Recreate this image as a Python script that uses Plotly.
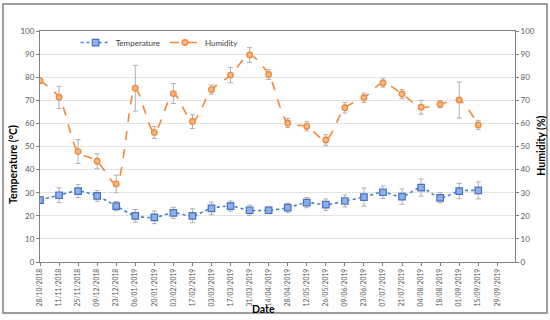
import plotly.graph_objects as go
from plotly.subplots import make_subplots

dates = ["2018-10-28", "2018-11-11", "2018-11-25", "2018-12-09", "2018-12-23",
         "2019-01-06", "2019-01-20", "2019-02-03", "2019-02-17", "2019-03-03",
         "2019-03-17", "2019-03-31", "2019-04-14", "2019-04-28", "2019-05-12",
         "2019-05-26", "2019-06-09", "2019-06-23", "2019-07-07", "2019-07-21",
         "2019-08-04", "2019-08-18", "2019-09-01", "2019-09-15"]
temperature = [26.8, 28.9, 30.7, 28.6, 24.2, 20.0, 19.3, 21.3, 20.0, 23.2,
               24.2, 22.4, 22.4, 23.5, 25.7, 24.8, 26.4, 28.1, 30.2, 28.3,
               32.2, 27.8, 30.7, 31.0]
temperature_err = [1.0, 3.2, 2.8, 2.3, 2.0, 2.7, 2.7, 2.4, 3.0, 2.7,
                   2.2, 2.2, 1.5, 2.0, 2.2, 2.5, 2.6, 3.9, 2.7, 3.3,
                   3.7, 2.2, 3.3, 3.7]
humidity = [78.5, 71.3, 47.8, 43.6, 33.8, 75.2, 56.1, 72.9, 60.8, 74.6,
            80.9, 89.6, 81.2, 60.2, 58.7, 52.8, 66.8, 71.1, 77.5, 72.7,
            67.0, 68.3, 70.1, 59.3]
humidity_err = [1.0, 4.8, 5.2, 3.2, 3.8, 9.9, 2.6, 4.3, 3.0, 2.0,
                3.3, 3.2, 2.2, 2.0, 2.0, 2.3, 2.3, 2.0, 1.8, 2.0,
                3.0, 1.5, 7.8, 2.0]
x_title = "Date"
y_title_left = "Temperature (°C)"
y_title_right = "Humidity (%)"

FONT = "Lato"
GRAY = "#595959"

fig = make_subplots(specs=[[{"secondary_y": True}]])

fig.add_trace(go.Scatter(
    x=dates, y=temperature, name="Temperature", mode="lines+markers",
    line=dict(color="#4A7FD0", width=1.6, dash="dot", shape="spline", smoothing=0.8),
    marker=dict(symbol="square", size=6.5, color="#8DB0E8", line=dict(color="#4472C4", width=1.2)),
    error_y=dict(type="data", array=temperature_err, visible=True, color="#B0B0B0", thickness=1, width=2.5),
), secondary_y=False)

fig.add_trace(go.Scatter(
    x=dates, y=humidity, name="Humidity", mode="lines+markers",
    line=dict(color="#F08A3C", width=1.6, dash="dash", shape="spline", smoothing=0.8),
    marker=dict(symbol="circle", size=5.5, color="#F8B98A", line=dict(color="#F08A3C", width=1.4)),
    error_y=dict(type="data", array=humidity_err, visible=True, color="#B0B0B0", thickness=1, width=2.5),
), secondary_y=True)

fig.update_xaxes(
    type="date", range=["2018-10-28", "2019-10-12"], automargin=False, domain=[0, 1],
    tick0="2018-10-28", dtick=14 * 86400000, tickformat="%d/%m/%Y",
    tickangle=-90, tickfont=dict(family=FONT, size=6.8, color=GRAY),
    ticks="outside", ticklen=3, tickcolor="#808080",
    showline=True, linecolor="#808080", linewidth=1, mirror=True,
    showgrid=False, zeroline=False,
)
fig.update_yaxes(
    range=[0, 100], dtick=10, tickfont=dict(family=FONT, size=8, color=GRAY), automargin=False,
    domain=[0, 1],
    ticks="outside", ticklen=3, tickcolor="#808080",
    showline=True, linecolor="#808080", linewidth=1,
    showgrid=True, gridcolor="#E3E3E3", gridwidth=1, zeroline=False,
    secondary_y=False,
)
fig.update_yaxes(
    range=[0, 100], dtick=10, tickfont=dict(family=FONT, size=8, color=GRAY), automargin=False,
    ticks="outside", ticklen=3, tickcolor="#808080",
    showline=True, linecolor="#808080", linewidth=1,
    showgrid=False, zeroline=False,
    secondary_y=True,
)

title_font = dict(family=FONT, size=10.5, color="#000000")
fig.add_annotation(text="<b>" + y_title_left + "</b>", xref="paper", yref="paper",
                   x=-0.0568, y=0.42, textangle=-90, showarrow=False, font=title_font,
                   xanchor="center", yanchor="middle")
fig.add_annotation(text="<b>" + y_title_right + "</b>", xref="paper", yref="paper",
                   x=1.054, y=0.502, textangle=-90, showarrow=False, font=title_font,
                   xanchor="center", yanchor="middle")
fig.add_annotation(text="<b>" + x_title + "</b>", xref="paper", yref="paper",
                   x=0.4695, y=-0.202, showarrow=False, font=title_font,
                   xanchor="center", yanchor="middle")

fig.add_shape(type="rect", xref="paper", yref="paper",
              x0=-0.0779, x1=1.0674, y0=-0.221, y1=1.117,
              line=dict(color="#7F7F7F", width=1.5), layer="below")

fig.update_layout(
    width=550, height=320,
    margin=dict(l=40, r=35, t=31, b=58, autoexpand=False),
    paper_bgcolor="white", plot_bgcolor="white",
    font=dict(family=FONT, size=8, color=GRAY),
    showlegend=True,
    legend=dict(orientation="h", x=0.075, y=0.95, xanchor="left", yanchor="middle",
                font=dict(family=FONT, size=8, color="#404040"),
                bgcolor="rgba(0,0,0,0)", tracegroupgap=0),
)

fig.write_html("out.html", config={"displayModeBar": False},
               post_script="document.body.style.margin='0';")
